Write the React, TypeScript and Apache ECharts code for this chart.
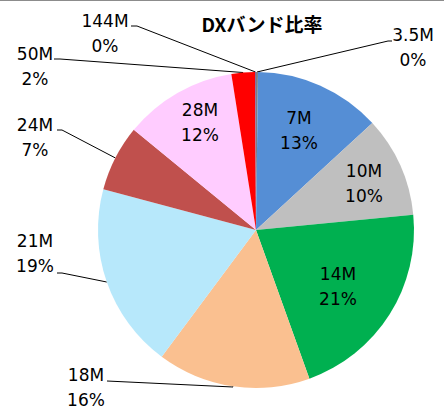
import { useEffect, useRef } from "react";
import * as echarts from "echarts";

// バンド別の比率 (%)
const bands = ["3.5M", "7M", "10M", "14M", "18M", "21M", "24M", "28M", "50M", "144M"];
const shares = [0.2, 13.0, 10.3, 21.1, 15.7, 19.0, 6.8, 11.6, 2.4, 0.1];
const colors = [
  "#7f7f7f",
  "#558ed5",
  "#bfbfbf",
  "#00b050",
  "#fac090",
  "#b7e8fb",
  "#c0504d",
  "#ffccff",
  "#ff0000",
  "#8064a2",
];
const insideBands = ["7M", "10M", "14M", "28M"];

// ラベルの位置 (Excel で手動配置されたもの)
const labelPos: Record<string, [number, number]> = {
  "3.5M": [413, 47],
  "7M": [299, 130],
  "10M": [364, 183],
  "14M": [338, 286],
  "18M": [86, 387],
  "21M": [35, 253],
  "24M": [35, 137],
  "28M": [200, 122],
  "50M": [35, 66],
  "144M": [105, 33],
};
// 引き出し線の折れ点と終点
const guidePts: Record<string, number[][]> = {
  "3.5M": [[388, 41], [392, 41]],
  "18M": [[233, 387], [107, 381]],
  "21M": [[62, 273], [57, 273]],
  "24M": [[62, 130], [57, 130]],
  "50M": [[60, 59], [54, 59]],
  "144M": [[137, 26], [131, 26]],
};

export default function App() {
  const chartRef = useRef<HTMLDivElement>(null);

  useEffect(() => {
    if (!chartRef.current) return;
    const chart = echarts.init(chartRef.current, null, { renderer: "svg" });
    const total = shares.reduce((a, b) => a + b, 0);

    const data = bands.map((b, i) => {
      const inside = insideBands.includes(b);
      return {
        name: b,
        value: shares[i],
        itemStyle: { color: colors[i] },
        label: { position: inside ? "inside" : "outside" },
        labelLine: { show: !inside },
      };
    });

    chart.setOption({
      animation: false,
      backgroundColor: "#ffffff",
      title: {
        text: "DXバンド比率",
        left: 257,
        top: 9,
        textAlign: "center",
        textStyle: {
          fontFamily: "'Noto Sans CJK JP', sans-serif",
          fontSize: 19,
          fontWeight: "bold",
          color: "#000",
        },
      },
      graphic: [
        {
          type: "line",
          shape: { x1: 0, y1: 0.5, x2: 444, y2: 0.5 },
          style: { stroke: "#8c8c8c", lineWidth: 1 },
        },
      ],
      series: [
        {
          type: "pie",
          center: [256, 230],
          radius: 158,
          startAngle: 90,
          clockwise: true,
          avoidLabelOverlap: false,
          minAngle: 0,
          itemStyle: { borderWidth: 0 },
          emphasis: { disabled: true },
          label: {
            show: true,
            color: "#000",
            fontFamily: "'DejaVu Sans', sans-serif",
            fontSize: 17,
            lineHeight: 25,
            align: "center",
            formatter: (p: any) =>
              `${p.name}\n${Math.round((p.value / total) * 100)}%`,
          },
          labelLine: {
            show: true,
            length: 10,
            length2: 10,
            lineStyle: { color: "#000", width: 1 },
          },
          labelLayout: (params: any) => {
            const name = bands[params.dataIndex];
            const pos = labelPos[name];
            const out: any = {
              x: pos[0],
              y: pos[1],
              align: "center",
              verticalAlign: "middle",
            };
            const g = guidePts[name];
            if (g && params.labelLinePoints) {
              out.labelLinePoints = [params.labelLinePoints[0], g[0], g[1]];
            }
            return out;
          },
          data,
        },
      ],
    });

    return () => chart.dispose();
  }, []);

  return (
    <div
      ref={chartRef}
      style={{ position: "fixed", left: 0, top: 0, width: 444, height: 410 }}
    />
  );
}
